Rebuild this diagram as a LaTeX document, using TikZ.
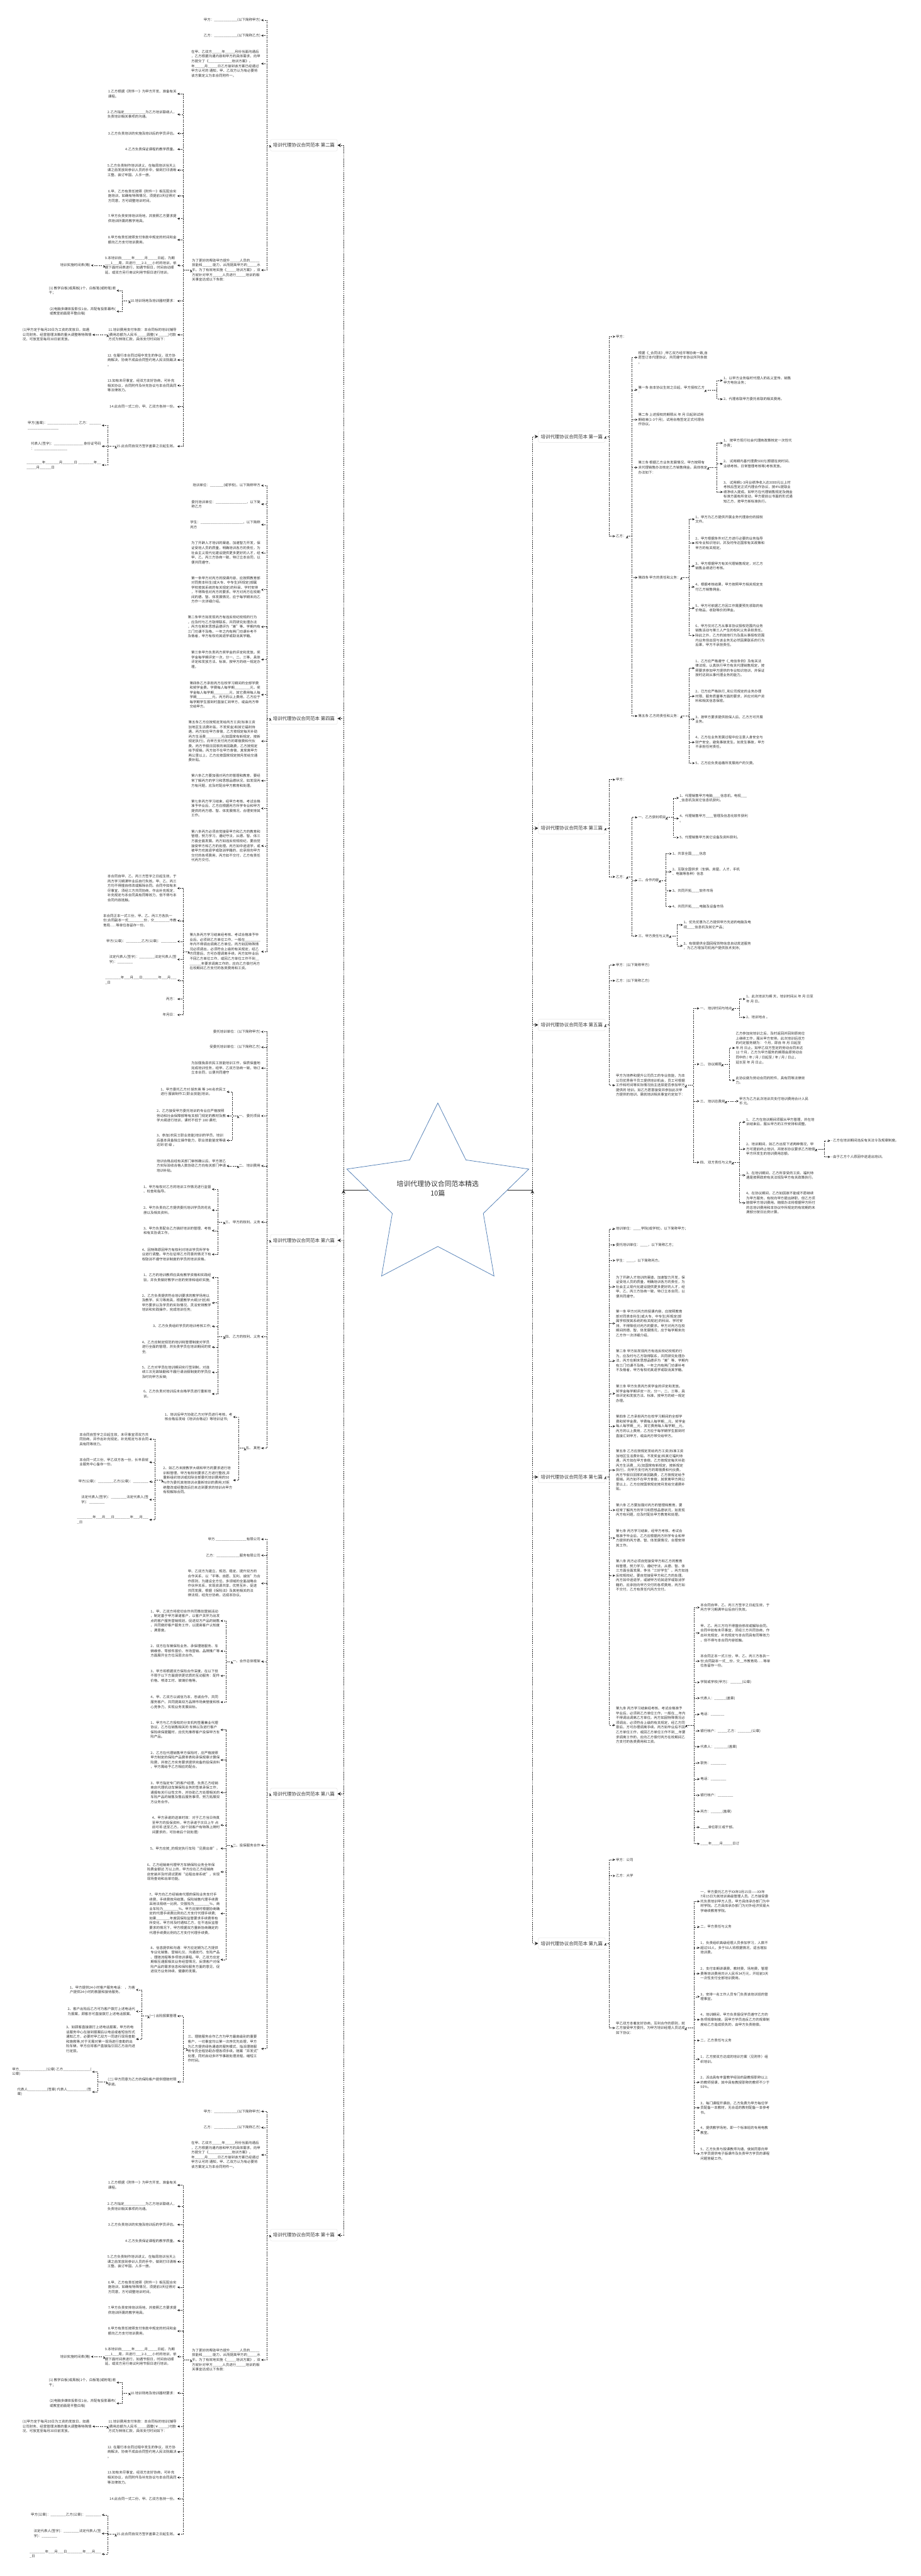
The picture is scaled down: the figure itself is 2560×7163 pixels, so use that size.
\documentclass[tikz,border=0pt]{standalone}
\usepackage{fontspec}
\setmainfont{Noto Sans CJK SC}
\usetikzlibrary{positioning,arrows.meta,calc,shapes.geometric}
\definecolor{mapink}{HTML}{333333}
\definecolor{mapline}{HTML}{262626}
\definecolor{starblue}{HTML}{4F7DB5}
\definecolor{topicedge}{HTML}{E2E2E2}

\begin{document}
\catcode`\_=12
\begin{tikzpicture}[x=1pt, y=-1pt,
  leaf/.style={font=\fontsize{9.6}{13.2}\selectfont, text=mapink, align=left, inner sep=2pt},
  rleaf/.style={leaf, anchor=west},
  lleaf/.style={leaf, anchor=east},
  topic/.style={draw=topicedge, fill=white, rounded corners=4pt, line width=0.8pt,
                font=\fontsize{13}{15}\selectfont, text=mapink, minimum height=32pt, inner xsep=7pt},
  rtopic/.style={topic, anchor=west},
  ltopic/.style={topic, anchor=east},
  link/.style={draw=mapline, line width=1.1pt, dash pattern=on 3.5pt off 2.5pt,
               -{Stealth[length=6.5pt, width=6.5pt, inset=2.2pt]}},
  trunk/.style={draw=mapline, line width=1.5pt, dash pattern=on 3pt off 2.5pt,
                -{Stealth[length=10pt, width=10pt, inset=3.5pt]}},
  rto/.style={to path={-| ($(\tikztotarget)+(-16,0)$) -- (\tikztotarget)}},
  lto/.style={to path={-| ($(\tikztotarget)+(16,0)$) -- (\tikztotarget)}},
  vto/.style={to path={|- (\tikztotarget)}},
  hubstar/.style={star, star points=5, star point ratio=2, minimum size=532pt, inner sep=0pt,
                  draw=starblue, fill=white, line width=1.3pt},
  hubtext/.style={font=\fontsize{19}{25}\selectfont, text=mapink, align=center},
]
\useasboundingbox (0,0) rectangle (2560,7163);
\fill[white] (0,0) rectangle (2560,7163);

% centre
\coordinate (lhub) at (955,3309);
\coordinate (rhub) at (1480,3309);
\draw[mapline, line width=1.2pt] (lhub) -- (rhub);
\node[hubstar] (hub) at (1217,3333) {};
\node[hubtext] (hubt) at (1217,3305) {培训代理协议合同范本精选\\10篇};

% topics
\node[rtopic] (t1) at (1496,1214) {培训代理协议合同范本 第一篇};
\node[rtopic] (t3) at (1496,2303) {培训代理协议合同范本 第三篇};
\node[rtopic] (t5) at (1496,2850) {培训代理协议合同范本 第五篇};
\node[rtopic] (t7) at (1496,4107) {培训代理协议合同范本 第七篇};
\node[rtopic] (t9) at (1496,5404) {培训代理协议合同范本 第九篇};
\node[ltopic] (t2) at (938,404) {培训代理协议合同范本 第二篇};
\node[ltopic] (t4) at (938,1998) {培训代理协议合同范本 第四篇};
\node[ltopic] (t6) at (938,3449) {培训代理协议合同范本 第六篇};
\node[ltopic] (t8) at (938,4988) {培训代理协议合同范本 第八篇};
\node[ltopic] (t10) at (938,6215) {培训代理协议合同范本 第十篇};
\draw[trunk] (rhub) edge[vto] (t1.west) edge[vto] (t3.west) edge[vto] (t5.west)
  edge[vto] (t7.west) edge[vto] (t9.west);
\draw[trunk] (lhub) edge[vto] (t2.east) edge[vto] (t4.east) edge[vto] (t6.east)
  edge[vto] (t8.east) edge[vto] (t10.east);

% ---- first
\node[rleaf] (t1a) at (1710,936) {甲方：};
\node[rleaf] (t1b) at (1710,1491) {乙方：};
\node[rleaf] (t1b1) at (1772,994) {根据《_合同法》,甲乙双方经平等协商一致,自\\愿签订本代理协议，共同遵守本协议所列条款\\。};
\node[rleaf] (t1b2) at (1772,1084) {第一条 自本协议生效之日起，甲方授权乙方\\：};
\node[rleaf] (t1b2a) at (2009,1058) {1、以甲方业务临时代理人的名义宣传、销售\\甲方电信业务；};
\node[rleaf] (t1b2b) at (2009,1110) {2、代理收取甲方委托收取的相关费用。};
\node[rleaf] (t1b3) at (1772,1167) {第二条 上述授权的期限从 年 月 日起到试用\\期结束(1-3个月)，试用合格签定正式代理合\\作协议。};
\node[rleaf] (t1b4) at (1772,1300) {第三条 根据乙方业务发展情况，甲方按照有\\关代理销售办法核定乙方销售佣金。具体核定\\办法如下：};
\node[rleaf] (t1b4a) at (2009,1232) {1、 按甲方现行社会代理商政策核定一次性代\\办费；};
\node[rleaf] (t1b4b) at (2009,1290) {2、 试用期内基代理费500元(根据在岗时间、\\业绩考核、日常管理考核等)考核发放。};
\node[rleaf] (t1b4c) at (2009,1368) {3、 试用期1-3月业绩净收入达3000元以上时\\考核后签定正式代理合作协议，按4\%提取业\\绩净收入提成。如甲方在代理销售规定及佣金\\标准方面有所变动，甲方提前以书面的形式通\\知乙方，按甲方新标准执行。};
\node[rleaf] (t1b5) at (1772,1606) {第四条 甲方的责任和义务：};
\node[rleaf] (t1b5a) at (1931,1444) {1、甲方为乙方提供开展业务代理身份的授权\\文件。};
\node[rleaf] (t1b5b) at (1931,1510) {2、甲方根据条件对乙方进行必要的业务指导\\和专业知识培训，并及时传达国家有关政策和\\甲方的有关规定。};
\node[rleaf] (t1b5c) at (1931,1574) {3、甲方根据甲方有关代理销售规定，对乙方\\销售业绩进行考核。};
\node[rleaf] (t1b5d) at (1931,1632) {4、根据考核结果，甲方按照甲方相关规定支\\付乙方销售佣金。};
\node[rleaf] (t1b5e) at (1931,1691) {5、甲方可依据乙方因工作需要预先领取的有\\价物品，收取等价的押金。};
\node[rleaf] (t1b5f) at (1931,1767) {6、甲方仅对乙方从事本协议授权范围内业务\\销售活动与第三人产生的权利义务承担责任。\\除此之外，乙方的其他行为及虽从事授权范围\\内业务但出现与该业务无必然因果联系的行为\\后果，甲方不承担责任。};
\node[rleaf] (t1b6) at (1772,1991) {第五条 乙方的责任和义务：};
\node[rleaf] (t1b6a) at (1931,1858) {1、乙方应严格遵守《_电信条例》及有关法\\律法规，认真执行甲方有关代理销售规定，按\\照要求参加甲方提供的专业知识培训，并保证\\按时达到从事代理业务的能力。};
\node[rleaf] (t1b6b) at (1931,1936) {2、已方应严格执行_和公司规定的业务办理\\时限、服务质量等方面的要求，并应对用户资\\料和相关信息保密。};
\node[rleaf] (t1b6c) at (1931,2000) {3、按甲方要求提供担保人后，乙方方可开展\\业务。};
\node[rleaf] (t1b6d) at (1931,2064) {4、乙方在业务发展过程中应注意人身安全与\\财产安全，避免事故发生。如发生事故，甲方\\不承担任何责任。};
\node[rleaf] (t1b6e) at (1931,2122) {5、乙方应负责追缴所发展用户的欠费。};
\draw[link] (t1.east) edge[rto] (t1a.west) edge[rto] (t1b.west);
\draw[link] (t1b.east) edge[rto] (t1b1.west) edge[rto] (t1b2.west) edge[rto] (t1b3.west)
  edge[rto] (t1b4.west) edge[rto] (t1b5.west) edge[rto] (t1b6.west);
\draw[link] (t1b2.east) edge[rto] (t1b2a.west) edge[rto] (t1b2b.west);
\draw[link] (t1b4.east) edge[rto] (t1b4a.west) edge[rto] (t1b4b.west) edge[rto] (t1b4c.west);
\draw[link] (t1b5.east) edge[rto] (t1b5a.west) edge[rto] (t1b5b.west) edge[rto] (t1b5c.west)
  edge[rto] (t1b5d.west) edge[rto] (t1b5e.west) edge[rto] (t1b5f.west);
\draw[link] (t1b6.east) edge[rto] (t1b6a.west) edge[rto] (t1b6b.west) edge[rto] (t1b6c.west)
  edge[rto] (t1b6d.west) edge[rto] (t1b6e.west);

% ---- third
\node[rleaf] (t3a) at (1710,2168) {甲方：};
\node[rleaf] (t3b) at (1710,2438) {乙方：};
\node[rleaf] (t3b1) at (1772,2273) {一、乙方获利项目};
\node[rleaf] (t3b1a) at (1887,2219) {1、代理销售甲方电脑____信息机，电视___\\_信息机及其它信息机获利。};
\node[rleaf] (t3b1b) at (1887,2276) {4、代理销售甲方____管理及信息化软件获利\\。};
\node[rleaf] (t3b1c) at (1887,2329) {5、代理销售甲方其它设备及资料获利。};
\node[rleaf] (t3b2) at (1772,2448) {二、合作内容};
\node[rleaf] (t3b2a) at (1867,2374) {1、共享全国____信息};
\node[rleaf] (t3b2b) at (1867,2424) {2、互联全国供求（车辆、房屋、人才、手机\\、电脑等各种）信息};
\node[rleaf] (t3b2c) at (1867,2477) {3、共同开拓____软件市场};
\node[rleaf] (t3b2d) at (1867,2521) {4、共同开拓____电脑及设备市场};
\node[rleaf] (t3b3) at (1772,2602) {三、甲方责任与义务};
\node[rleaf] (t3b3a) at (1898,2572) {1、优先优惠为乙方提供甲方先进的电脑及电\\视____信息机及其它产品；};
\node[rleaf] (t3b3b) at (1898,2630) {2、有偿提供全国回程货物信息自动发送服务\\，为乙方增加司机用户提供技术支持；};
\draw[link] (t3.east) edge[rto] (t3a.west) edge[rto] (t3b.west);
\draw[link] (t3b.east) edge[rto] (t3b1.west) edge[rto] (t3b2.west) edge[rto] (t3b3.west);
\draw[link] (t3b1.east) edge[rto] (t3b1a.west) edge[rto] (t3b1b.west) edge[rto] (t3b1c.west);
\draw[link] (t3b2.east) edge[rto] (t3b2a.west) edge[rto] (t3b2b.west) edge[rto] (t3b2c.west)
  edge[rto] (t3b2d.west);
\draw[link] (t3b3.east) edge[rto] (t3b3a.west) edge[rto] (t3b3b.west);

% ---- fifth
\node[rleaf] (t5a) at (1710,2683) {甲方：(以下简称甲方)};
\node[rleaf] (t5b) at (1710,2727) {乙方：(以下简称乙方)};
\node[rleaf] (t5c) at (1710,3018) {甲方为培养和提升公司员工的专业技能，为本\\公司优秀骨干员工提供培训机会，员工可根据\\工作和时间等实际情况自主选择是否参加甲方\\提供的 培训。如乙方愿意接受并参加此次甲\\方提供的培训，需就培训相关事宜约定如下：};
\node[rleaf] (t5c1) at (1944,2804) {一、 培训时间与地点};
\node[rleaf] (t5c1a) at (2072,2778) {1、此次培训为期 天，培训时间从 年 月 日至\\ 年 月 日。};
\node[rleaf] (t5c1b) at (2072,2829) {2、培训地点 。};
\node[rleaf] (t5c2) at (1944,2959) {二、 协议期限};
\node[rleaf] (t5c2a) at (2043,2914) {乙方参加完培训之后，及时返回并回到原岗位\\上继续工作，服从甲方安排。此次培训后双方\\的约定服务期为： 个月，即自 年 月 日起至\\年 月 日止。如甲乙双方签定的劳动合同未达\\12 个月，乙方为甲方服务的期限由原劳动合\\同中的 / 年 / 月 / 日起至 / 年 / 月 / 日止，\\延长至 年 月 日止。};
\node[rleaf] (t5c2b) at (2043,3004) {此协议做为劳动合同的附件，具有同等法律效\\力。};
\node[rleaf] (t5c3) at (1944,3062) {三、 培训总费用};
\node[rleaf] (t5c3a) at (2053,3062) {甲方为乙方此次培训共支付培训费用合计人民\\币 元。};
\node[rleaf] (t5c4) at (1944,3232) {四、 双方责任与义务};
\node[rleaf] (t5c4a) at (2072,3120) {1、 乙方在培训期间须服从甲方管理，并在培\\训结束后，服从甲方的工作安排和调整。};
\node[rleaf] (t5c4b) at (2072,3195) {2、培训期间，如乙方出现下述两种情况，甲\\方可提前终止培训，并按本协议要求乙方赔偿\\甲方所发生的培训费用总额。};
\node[rleaf] (t5c4b1) at (2308,3172) {- 乙方在培训期间违反有关法令及规章制度。};
\node[rleaf] (t5c4b2) at (2308,3217) {- 由于乙方个人原因中途退出培训。};
\node[rleaf] (t5c4c) at (2072,3268) {3、在培训期间，乙方所享受的工资、福利待\\遇是按照政府有关法规及甲方有关政策执行。};
\node[rleaf] (t5c4d) at (2072,3345) {4、在协议期间，乙方如因故不能或不愿继续\\为甲方服务，有权向甲方提出辞职，但乙方须\\赔偿甲方培训费用。赔偿办法将根据甲方所付\\的总培训费用和本协议中所规定的有效期的未\\满部分按日比例计算。};
\draw[link] (t5.east) edge[rto] (t5a.west) edge[rto] (t5b.west) edge[rto] (t5c.west);
\draw[link] (t5c.east) edge[rto] (t5c1.west) edge[rto] (t5c2.west) edge[rto] (t5c3.west)
  edge[rto] (t5c4.west);
\draw[link] (t5c1.east) edge[rto] (t5c1a.west) edge[rto] (t5c1b.west);
\draw[link] (t5c2.east) edge[rto] (t5c2a.west) edge[rto] (t5c2b.west);
\draw[link] (t5c3.east) edge[rto] (t5c3a.west);
\draw[link] (t5c4.east) edge[rto] (t5c4a.west) edge[rto] (t5c4b.west) edge[rto] (t5c4c.west)
  edge[rto] (t5c4d.west);
\draw[link] (t5c4b.east) edge[rto] (t5c4b1.west) edge[rto] (t5c4b2.west);

% ---- seventh
\node[rleaf] (t7a) at (1710,3417) {培训单位：____学院(或学校)，以下简称甲方；};
\node[rleaf] (t7b) at (1710,3462) {委托培训单位：____，以下简称乙方；};
\node[rleaf] (t7c) at (1710,3505) {学生：____，以下简称丙方。};
\node[rleaf] (t7d) at (1710,3578) {为了开辟人才培训的渠道，加速智力开发，保\\证受培人员的质量，明确培训各方的责任，为\\社会主义现代化建设提供更多更好的人才，经\\甲、乙、丙三方协商一致，特订立本合同，以\\便共同遵守。};
\node[rleaf] (t7e) at (1710,3680) {第一条 甲方对丙方的授课内容，应按照教育\\部对同类本科生(或大专、中专生)所规定(部\\属学校按其系统的有关规定)的科目、学时安\\排，不得降低对丙方的要求。甲方对丙方在校\\期间的德、智、体发展情况，应于每学期末向\\乙方作一次详细介绍。};
\node[rleaf] (t7f) at (1710,3784) {第二条 甲方如发现丙方有违反校纪校规的行\\为，应及时与乙方取得联系，共同研究处理办\\法，丙方在期末思想品德评为“差”等、学期内\\有三门功课不及格，一年之内有两门功课补考\\不及格者，甲方有权劝其退学或取消其学籍。};
\node[rleaf] (t7g) at (1710,3875) {第三条 甲方负责丙方奖学金的评定和发放。\\奖学金每学期评定一次，分一、二、三等，具\\体评定和发放方法、标准，按甲方的统一规定\\办理。};
\node[rleaf] (t7h) at (1710,3966) {第四条 乙方承担丙方在校学习期间的全部学\\费和奖学金费。学费每人每学期__元，奖学金\\每人每学期__元，其它费用每人每学期__元。\\丙方的以上费用，乙方应于每学期学生报到时\\直接汇到甲方，或由丙方带交给甲方。};
\node[rleaf] (t7i) at (1710,4088) {第五条 乙方应按规定发给丙方工资(标准工资\\加地区生活费补贴，不发奖金)和其它福利待\\遇，丙方如在甲方食宿，乙方按规定每天补助\\丙方生活费__元(如国家有新规定，按新规定\\执行)，向甲方支付丙方的寄宿费和代伙费。\\丙方节假日回家的来回路费，乙方按规定给予\\报销。丙方如不在甲方食宿，其家离甲方两公\\里以上，乙方应按国家规定按月发给交通费补\\贴。};
\node[rleaf] (t7j) at (1710,4199) {第六条 乙方要加强对丙方的管理和教育，要\\经常了解丙方的学习和思想品德状况，如发现\\丙方有问题，应及时配合甲方教育和处理。};
\node[rleaf] (t7k) at (1710,4277) {第七条 丙方学习结束，经甲方考核、考试合\\格准予毕业后，乙方应根据丙方所学专业和甲\\方提供的丙方德、智、体发展情况，合理安排\\其工作。};
\node[rleaf] (t7l) at (1710,4381) {第八条 丙方必须自觉接受甲方和乙方的教育\\和管理，努力学习，遵纪守法，从德、智、体\\三方面全面发展，争当“三好学生”。丙方如违\\反校规校纪，要自觉接受甲方和乙方的处理。\\丙方如中途退学，或被甲方劝其退学或取消学\\籍的，应承担向甲方交付的各项费用，丙方如\\不交付，乙方有责任代丙方交付。};
\node[rleaf] (t7m) at (1710,4797) {第九条 丙方学习结束经考核、考试合格准予\\毕业后，必须到乙方单位工作，一般在__年内\\不得调出调离乙方单位。丙方如因特殊情况必\\须调出，必须符合上级的有关规定，经乙方同\\意后，方可办理调离手续。丙方如毕业后不回\\乙方单位工作，或回乙方单位工作不到__年要\\求调离工作的，应向乙方偿付丙方在校期间乙\\方支付的各类费用和工资。};
\node[rleaf] (t7m1) at (1945,4470) {本合同自甲、乙、丙三方签字之日起生效，于\\丙方学习期满毕业后自行失效。};
\node[rleaf] (t7m2) at (1945,4541) {甲、乙、丙三方均不得擅自修改或解除合同。\\合同中如有未尽事宜，须经三方共同协商，作\\出补充规定，补充规定与本合同具有同等效力\\，但不得与本合同内容抵触。};
\node[rleaf] (t7m3) at (1945,4619) {本合同正本一式三份，甲、乙、丙三方各执一\\份;合同副本一式__份，交__市教育局......等单\\位各留存一份。};
\node[rleaf] (t7m4) at (1945,4678) {学院或学校(甲方)：______(公章)};
\node[rleaf] (t7m5) at (1945,4722) {代表人：______(盖章)};
\node[rleaf] (t7m6) at (1945,4767) {电话：_______};
\node[rleaf] (t7m7) at (1945,4813) {银行帐户：_____乙方：_______(公章)};
\node[rleaf] (t7m8) at (1945,4857) {代表人：_______(盖章)};
\node[rleaf] (t7m9) at (1945,4902) {职务：________};
\node[rleaf] (t7m10) at (1945,4947) {电话：________};
\node[rleaf] (t7m11) at (1945,4992) {银行帐户：________};
\node[rleaf] (t7m12) at (1945,5037) {丙方：______(盖章)};
\node[rleaf] (t7m13) at (1945,5081) {____单位职工或干部。};
\node[rleaf] (t7m14) at (1945,5127) {____年____月_____日订};
\draw[link] (t7.east) edge[rto] (t7a.west) edge[rto] (t7b.west) edge[rto] (t7c.west)
  edge[rto] (t7d.west) edge[rto] (t7e.west) edge[rto] (t7f.west) edge[rto] (t7g.west)
  edge[rto] (t7h.west) edge[rto] (t7i.west) edge[rto] (t7j.west) edge[rto] (t7k.west)
  edge[rto] (t7l.west) edge[rto] (t7m.west);
\draw[link] (t7m.east) edge[rto] (t7m1.west) edge[rto] (t7m2.west) edge[rto] (t7m3.west)
  edge[rto] (t7m4.west) edge[rto] (t7m5.west) edge[rto] (t7m6.west) edge[rto] (t7m7.west)
  edge[rto] (t7m8.west) edge[rto] (t7m9.west) edge[rto] (t7m10.west) edge[rto] (t7m11.west)
  edge[rto] (t7m12.west) edge[rto] (t7m13.west) edge[rto] (t7m14.west);

% ---- ninth
\node[rleaf] (t9a) at (1710,5171) {甲方：公司};
\node[rleaf] (t9b) at (1710,5216) {乙方：大学};
\node[rleaf] (t9c) at (1710,5639) {甲乙双方本着友好协商，互利合作的原则，就\\乙方接受甲方委托，为甲方培训经理人员达成\\如下协议：};
\node[rleaf] (t9c1) at (1945,5287) {一，甲方委托乙方于XX年3月15日——XX年\\7月15日为其培训高级管理人员。乙方接受委\\托负责培训甲方人员。甲方具体承办部门为中\\材学院。乙方具体承办部门为对外经济贸易大\\学继续教育学院。};
\node[rleaf] (t9c2) at (1945,5358) {二，甲方责任与义务};
\node[rleaf] (t9c3) at (1945,5416) {1，负责组织高级经理人员参加学习，人数不\\超过50人，多于50人将根据情况，适当增加\\培训费。};
\node[rleaf] (t9c4) at (1945,5488) {2，支付本期讲课费，教材费，场地费，管理\\费等培训费用共计人民币34万元，开班前3天\\一次性支付全部培训费用。};
\node[rleaf] (t9c5) at (1945,5552) {3，安排一名工作人员专门负责该培训班的管\\理事宜。};
\node[rleaf] (t9c6) at (1945,5616) {4，培训期间，甲方负责督促学员遵守乙方的\\各项规章制度。因甲方学员违反乙方的规章制\\度给乙方造成损失的，由甲方负责赔偿。};
\node[rleaf] (t9c7) at (1945,5674) {二，乙方责任与义务};
\node[rleaf] (t9c8) at (1945,5726) {1，乙方按双方达成的培训方案（见附件）组\\织培训。};
\node[rleaf] (t9c9) at (1945,5790) {2，派出具有丰富教学经验的副教授职称以上\\的教师授课，其中具有教授职称的教师不少于\\50\%。};
\node[rleaf] (t9c10) at (1945,5861) {3，每门课程开课前，乙方免费为甲方每位学\\员配备一本教材，无合适的教材配备一本参考\\书。};
\node[rleaf] (t9c11) at (1945,5924) {4，提供教学场地，即一个标准班的专用电教\\教室。};
\node[rleaf] (t9c12) at (1945,5989) {5，乙方负责与授课教师沟通，使其同意向甲\\方学员提供电子版课件及负责甲方学员的课程\\问题答疑工作。};
\draw[link] (t9.east) edge[rto] (t9a.west) edge[rto] (t9b.west) edge[rto] (t9c.west);
\draw[link] (t9c.east) edge[rto] (t9c1.west) edge[rto] (t9c2.west) edge[rto] (t9c3.west)
  edge[rto] (t9c4.west) edge[rto] (t9c5.west) edge[rto] (t9c6.west) edge[rto] (t9c7.west)
  edge[rto] (t9c8.west) edge[rto] (t9c9.west) edge[rto] (t9c10.west) edge[rto] (t9c11.west)
  edge[rto] (t9c12.west);

% ---- second
\node[lleaf] (t2a) at (726,56) {甲方：____________(以下简称甲方)};
\node[lleaf] (t2b) at (726,99) {乙方：____________(以下简称乙方)};
\node[lleaf] (t2c) at (726,177) {在甲、乙双方_____年_____月份当面沟通后\\，乙方根据沟通内容和甲方的具体需求，向甲\\方提交了《____________培训方案》。\\年_____月_____日乙方接到该方案已经通过\\甲方认可的 通知，甲、乙双方认为有必要将\\该方案定义为本合同附件一。};
\node[lleaf] (t2d) at (726,751) {为了更好的帮助甲方提升_____人员的_____\\技能和_____ 能力，从而提高甲方的_____水\\平。为了有效地实施《_____培训方案》，双\\方就针对甲方_____人员进行_____培训的相\\关事宜达成以下条款：};
\node[lleaf] (t2d1) at (493,261) {1.乙方根据《附件一》为甲方开发、准备有关\\课程。};
\node[lleaf] (t2d2) at (493,318) {2.乙方指定___________为乙方培训联络人，\\负责培训相关事项的沟通。};
\node[lleaf] (t2d3) at (493,371) {3.乙方负责培训的实施及培训后的学员评估。};
\node[lleaf] (t2d4) at (493,415) {4.乙方负责保证课程的教学质量。};
\node[lleaf] (t2d5) at (493,473) {5.乙方负责制作培训讲义，在每周培训当天上\\课之前发放到参训人员的手中，做到打印清晰\\工整、装订牢固、人手一册。};
\node[lleaf] (t2d6) at (493,545) {6.甲、乙方有责任按照《附件一》相互配合实\\施培训，如确有特殊情况，须提前3天征得对\\方同意，方可调整培训时间。};
\node[lleaf] (t2d7) at (493,608) {7.甲方负责安排培训场地，并按照乙方要求提\\供培训所需的教学用具。};
\node[lleaf] (t2d8) at (493,667) {8.甲方有责任按照支付条款中规定的时间和金\\额向乙方支付培训费用。};
\node[lleaf] (t2d9) at (493,738) {9.本培训自_____年_____月_____日起，为期\\___1___周，共进行___2-3___小时的培训，依\\据下面时间表进行，如遇节假日，时间自动顺\\延，或双方另行商议利用节假日进行培训。};
\node[lleaf] (t2d9a) at (253,738) {培训实施时间表(略)};
\node[lleaf] (t2d10) at (493,837) {10.培训场地及培训器材要求：};
\node[lleaf] (t2d10a) at (324,808) {(1) 教学白板(或黑板)1个，白板笔(或粉笔)若\\干；};
\node[lleaf] (t2d10b) at (324,866) {(2)电脑多媒体投影仪1台，并配有投影幕布(\\或教室前面是平整白墙)};
\node[lleaf] (t2d11) at (493,931) {11.培训费用支付条款：本合同标的培训(辅导\\)费用总额为人民币_____圆整(￥_____)付款\\方式为转账汇款，具体支付时间如下：};
\node[lleaf] (t2d11a) at (257,931) {(1)甲方定于每月20日为工资的发放日，如遇\\公司财务、经营管理决策的重大调整等特殊情\\况，可放宽至每月30日前发放。};
\node[lleaf] (t2d12) at (493,1001) {12. 在履行本合同过程中发生的争议，双方协\\商解决，协商不成由合同签约地人民法院裁决\\。};
\node[lleaf] (t2d13) at (493,1072) {13.如有未尽事宜，经双方友好协商，可补充\\相关协议，合同附件及补充协议与本合同具同\\等法律效力。};
\node[lleaf] (t2d14) at (493,1131) {14.此合同一式二份，甲、乙双方各持一份。};
\node[lleaf] (t2d15) at (493,1241) {15.此合同自双方签字盖章之日起生效。};
\node[lleaf] (t2d15a) at (283,1183) {甲方(盖章)：________________ 乙方：______\\________________};
\node[lleaf] (t2d15b) at (283,1241) {代表人(签字)：_______________ 身份证号码\\：_________________};
\node[lleaf] (t2d15c) at (283,1293) {________年_______月______日 ________年__\\_____月______日};
\draw[link] (t2.west) edge[lto] (t2a.east) edge[lto] (t2b.east) edge[lto] (t2c.east)
  edge[lto] (t2d.east);
\draw[link] (t2d.west) edge[lto] (t2d1.east) edge[lto] (t2d2.east) edge[lto] (t2d3.east)
  edge[lto] (t2d4.east) edge[lto] (t2d5.east) edge[lto] (t2d6.east) edge[lto] (t2d7.east)
  edge[lto] (t2d8.east) edge[lto] (t2d9.east) edge[lto] (t2d10.east) edge[lto] (t2d11.east)
  edge[lto] (t2d12.east) edge[lto] (t2d13.east) edge[lto] (t2d14.east) edge[lto] (t2d15.east);
\draw[link] (t2d9.west) edge[lto] (t2d9a.east);
\draw[link] (t2d10.west) edge[lto] (t2d10a.east) edge[lto] (t2d10b.east);
\draw[link] (t2d11.west) edge[lto] (t2d11a.east);
\draw[link] (t2d15.west) edge[lto] (t2d15a.east) edge[lto] (t2d15b.east) edge[lto] (t2d15c.east);

% ---- fourth
\node[lleaf] (t4a) at (726,1350) {培训单位：_______(或学校)，以下简称甲方};
\node[lleaf] (t4b) at (726,1402) {委托培训单位：________________，以下简\\称乙方};
\node[lleaf] (t4c) at (726,1459) {学生：______________________，以下简称\\丙方};
\node[lleaf] (t4d) at (726,1537) {为了开辟人才培训的渠道，加速智力开发，保\\证受培人员的质量，明确培训各方的责任，为\\社会主义现代化建设提供更多更好的人才，经\\甲、乙、丙三方协商一致，特订立本合同，以\\便共同遵守。};
\node[lleaf] (t4e) at (726,1640) {第一条甲方对丙方的授课内容，应按照教育部\\对同类本科生(或大专、中专生)所规定(部属\\学校按其系统的有关规定)的科目、学时安排\\，不得降低对丙方的要求。甲方对丙方在校期\\间的德、智、体发展情况，应于每学期末向乙\\方作一次详细介绍。};
\node[lleaf] (t4f) at (726,1743) {第二条甲方如发现丙方有违反校纪校规的行为\\，应及时与乙方取得联系，共同研究处理办法\\，丙方在期末思想品德评为“差”等、学期内有\\三门功课不及格，一年之内有两门功课补考不\\及格者，甲方有权劝其退学或取消其学籍。};
\node[lleaf] (t4g) at (726,1834) {第三条甲方负责丙方奖学金的评定和发放。奖\\学金每学期评定一次，分一、二、三等，具体\\评定和发放方法、标准，按甲方的统一规定办\\理。};
\node[lleaf] (t4h) at (726,1932) {第四条乙方承担丙方在校学习期间的全部学费\\和奖学金费。学费每人每学期________元，奖\\学金每人每学期________元，其它费用每人每\\学期________元。丙方的以上费用，乙方应于\\每学期学生报到时直接汇到甲方，或由丙方带\\交给甲方。};
\node[lleaf] (t4i) at (726,2061) {第五条乙方应按规定发给丙方工资(标准工资\\加地区生活费补贴，不发奖金)和其它福利待\\遇，丙方如在甲方食宿，乙方按规定每天补助\\丙方生活费________元(如国家有新规定，按新\\规定执行)，向甲方支付丙方的寄宿费和代伙\\费。丙方节假日回家的来回路费，乙方按规定\\给予报销。丙方如不在甲方食宿，其家离甲方\\两公里以上，乙方应按国家规定按月发给交通\\费补贴。};
\node[lleaf] (t4j) at (726,2171) {第六条乙方要加强对丙方的管理和教育，要经\\常了解丙方的学习和思想品德状况，如发现丙\\方有问题，应及时配合甲方教育和处理。};
\node[lleaf] (t4k) at (726,2248) {第七条丙方学习结束，经甲方考核、考试合格\\准予毕业后，乙方应根据丙方所学专业和甲方\\提供的丙方德、智、体发展情况，合理安排其\\工作。};
\node[lleaf] (t4l) at (726,2352) {第八条丙方必须自觉接受甲方和乙方的教育和\\管理，努力学习，遵纪守法，从德、智、体三\\方面全面发展。丙方如违反校规校纪，要自觉\\接受甲方和乙方的处理。丙方如中途退学，或\\被甲方劝其退学或取消学籍的，应承担向甲方\\交付的各项费用，丙方如不交付，乙方有责任\\代丙方交付。};
\node[lleaf] (t4m) at (726,2646) {第九条丙方学习结束经考核、考试合格准予毕\\业后，必须到乙方单位工作，一般在________\\年内不得调出调离乙方单位。丙方如因特殊情\\况必须调出，必须符合上级的有关规定，经乙\\方同意后，方可办理调离手续。丙方如毕业后\\不回乙方单位工作，或回乙方单位工作不到__\\______年要求调离工作的，应向乙方偿付丙方\\在校期间乙方支付的各类费用和工资。};
\node[lleaf] (t4m1) at (493,2470) {本合同自甲、乙、丙三方签字之日起生效，于\\丙方学习期满毕业后自行失效。甲、乙、丙三\\方均不得擅自修改或解除合同。合同中如有未\\尽事宜，须经三方共同协商，作出补充规定，\\补充规定与本合同具有同等效力，但不得与本\\合同内容抵触。};
\node[lleaf] (t4m2) at (493,2560) {本合同正本一式三份，甲、乙、丙三方各执一\\份;合同副本一式________份，交________市教\\育局......等单位各留存一份。};
\node[lleaf] (t4m3) at (493,2618) {甲方(公章)：________乙方(公章)：________};
\node[lleaf] (t4m4) at (493,2668) {法定代表人(签字)：________法定代表人(签\\字)：________};
\node[lleaf] (t4m5) at (493,2726) {________年___月___日________年___月___\\_日};
\node[lleaf] (t4m6) at (493,2778) {丙方：};
\node[lleaf] (t4m7) at (493,2822) {年月日：};
\draw[link] (t4.west) edge[lto] (t4a.east) edge[lto] (t4b.east) edge[lto] (t4c.east)
  edge[lto] (t4d.east) edge[lto] (t4e.east) edge[lto] (t4f.east) edge[lto] (t4g.east)
  edge[lto] (t4h.east) edge[lto] (t4i.east) edge[lto] (t4j.east) edge[lto] (t4k.east)
  edge[lto] (t4l.east) edge[lto] (t4m.east);
\draw[link] (t4m.west) edge[lto] (t4m1.east) edge[lto] (t4m2.east) edge[lto] (t4m3.east)
  edge[lto] (t4m4.east) edge[lto] (t4m5.east) edge[lto] (t4m6.east) edge[lto] (t4m7.east);

% ---- sixth
\node[lleaf] (t6a) at (726,2869) {委托培训单位：(以下简称甲方)};
\node[lleaf] (t6b) at (726,2912) {受委托培训单位：(以下简称乙方)};
\node[lleaf] (t6c) at (726,2970) {为加强我县农民工技能培训工作，保质保量地\\完成培训任务，经甲、乙双方协商一致，特订\\立本合同，以便共同遵守};
\node[lleaf] (t6d) at (726,3103) {一、 委托项目};
\node[lleaf] (t6d1) at (630,3036) {1、甲方委托乙方对 胡东英 等 146名农民工\\进行 服装制作工(职业技能)培训。};
\node[lleaf] (t6d2) at (630,3103) {2、乙方接受甲方委托培训的专业应严格按照\\劳动和社会保障部等有关部门规定的教材及教\\学大纲进行培训，课时不低于 180 课时;};
\node[lleaf] (t6d3) at (630,3171) {3、参加(农民工职业技能)培训的学员，培训\\后基本具备独立操作能力，职业技能鉴定等级\\达到 初 级 。};
\node[lleaf] (t6e) at (726,3242) {二、 培训费用};
\node[lleaf] (t6e1) at (630,3242) {培训合格且经有关部门审核确认后，甲方按乙\\方实际验收合格人数协助乙方向有关部门申请\\培训补贴。};
\node[lleaf] (t6f) at (726,3398) {三、 甲方的权利、义务};
\node[lleaf] (t6f1) at (589,3307) {1、甲方有权对乙方的培训工作情况进行监督\\、检查和指导。};
\node[lleaf] (t6f2) at (589,3365) {2、甲方负责向乙方提供委托培训学员的花名\\册以及相关资料。};
\node[lleaf] (t6f3) at (589,3422) {3、甲方负责配合乙方搞好培训的管理、考核\\和有关协调工作。};
\node[lleaf] (t6f4) at (589,3488) {4、因特殊原因甲方有权利对培训学员所学专\\业进行调整。甲方在征得乙方同意的情况下有\\权取消不遵守培训制度的学员的培训资格。};
\node[lleaf] (t6g) at (726,3717) {四、 乙方的权利、义务};
\node[lleaf] (t6g1) at (589,3553) {1、乙方的培训教师应具有教学资格和实践经\\验，并负责做好教学计划的安排和组织实施;};
\node[lleaf] (t6g2) at (589,3623) {2、乙方负责提供符合培训要求的教学场地以\\及教学、实习等用具，根据教学大纲(计划)和\\甲方要求以及学员的实际情况，灵活安排教学\\培训和实践操作，完成培训任务;};
\node[lleaf] (t6g3) at (589,3688) {3、乙方负责组织学员的培训考核工作;};
\node[lleaf] (t6g4) at (589,3746) {4、乙方应制定规范的培训和管理制度对学员\\进行全面的管理，并负责学员在培训期间的安\\全;};
\node[lleaf] (t6g5) at (589,3816) {5、乙方对学员在培训期间实行签到制，对连\\续三次无故缺勤和不履行请消假制度的学员应\\及时向甲方反映;};
\node[lleaf] (t6g6) at (589,3876) {6、乙方负责对培训后未合格学员进行重新培\\训。};
\node[lleaf] (t6h) at (726,4027) {五、 其他};
\node[lleaf] (t6h1) at (648,3940) {1、培训后甲方协助乙方对学员进行考核，考\\核合格后发给《培训合格证》等培训证书;};
\node[lleaf] (t6h2) at (648,4116) {2、如乙方未按教学大纲和甲方的要求进行培\\训和管理，甲方有权利要求乙方进行整改,并\\重新组织培训或扣除全部委托培训费用的50\\\%作为委托其他培训点重新培训的费用;对拒\\绝整改或经整改后仍未达到要求的培训点甲方\\有权解除合同。};
\node[lleaf] (t6h2a) at (415,4002) {本合同自签字之日起生效，未尽事宜须双方共\\同协商，并作出补充规定。补充规定与本合同\\具有同等效力。};
\node[lleaf] (t6h2b) at (415,4066) {本合同一式三份，甲乙双方各一份，长丰县就\\业服务中心备存一份。};
\node[lleaf] (t6h2c) at (415,4120) {甲方(公章)：________乙方(公章)：________};
\node[lleaf] (t6h2d) at (415,4170) {法定代表人(签字)：________法定代表人(签\\字)：________};
\node[lleaf] (t6h2e) at (415,4226) {________年___月___日________年___月___\\_日};
\draw[link] (t6.west) edge[lto] (t6a.east) edge[lto] (t6b.east) edge[lto] (t6c.east)
  edge[lto] (t6d.east) edge[lto] (t6e.east) edge[lto] (t6f.east) edge[lto] (t6g.east)
  edge[lto] (t6h.east);
\draw[link] (t6d.west) edge[lto] (t6d1.east) edge[lto] (t6d2.east) edge[lto] (t6d3.east);
\draw[link] (t6e.west) edge[lto] (t6e1.east);
\draw[link] (t6f.west) edge[lto] (t6f1.east) edge[lto] (t6f2.east) edge[lto] (t6f3.east)
  edge[lto] (t6f4.east);
\draw[link] (t6g.west) edge[lto] (t6g1.east) edge[lto] (t6g2.east) edge[lto] (t6g3.east)
  edge[lto] (t6g4.east) edge[lto] (t6g5.east) edge[lto] (t6g6.east);
\draw[link] (t6h.west) edge[lto] (t6h1.east) edge[lto] (t6h2.east);
\draw[link] (t6h2.west) edge[lto] (t6h2a.east) edge[lto] (t6h2b.east) edge[lto] (t6h2c.east)
  edge[lto] (t6h2d.east) edge[lto] (t6h2e.east);

% ---- eighth
\node[lleaf] (t8a) at (726,4280) {甲方 ________________有限公司};
\node[lleaf] (t8b) at (726,4325) {乙方：____________服务有限公司};
\node[lleaf] (t8c) at (726,4403) {甲、乙双方为建立、规范、稳定、提升双方的\\合作关系，以“平等、自愿、互利、诚信”为合\\作原则，为建设全方位、多领域的全面战略合\\作伙伴关系，实现资源共享，优势互补，促进\\共同发展，根据《保险法》及其他相关的法\\律法规，经充分协商，达成本协议。};
\node[lleaf] (t8d) at (726,4620) {一、合作总体框架};
\node[lleaf] (t8d1) at (613,4507) {1、甲、乙双方将密切合作共同策划营销活动\\，制定基于甲方渠道客户，以客户关怀为出发\\点的客户服务营销规划，促进双方产品的销售\\，共同做好客户服务工作，以提高客户认知度\\、满意度。};
\node[lleaf] (t8d2) at (613,4591) {2、双方在车辆保险业务、承保理赔服务、车\\辆维修、零部件报价、市场营销、品牌推广等\\方面展开全方位深层次合作。};
\node[lleaf] (t8d3) at (613,4660) {3、甲方将根据双方保险合作深度，在以下但\\不限于以下方面提供更优质的互动服务：配件\\价格、喷漆工时、玻璃价格等。};
\node[lleaf] (t8d4) at (613,4733) {4、甲、乙双方以诚信为本，忠诚合作，共同\\服务客户。共同提高双方品牌市场美誉度和核\\心竞争力，实现业务发展目标。};
\node[lleaf] (t8e) at (726,5131) {二、投保服务合作};
\node[lleaf] (t8e1) at (613,4810) {1、甲方与乙方授权的分支机构签署兼业代理\\协议，乙方在销售相关的 车辆以及进行客户\\保险续保提醒时，应优先推荐客户投保甲方车\\险产品。};
\node[lleaf] (t8e2) at (613,4894) {2、乙方在代理销售甲方保险时，应严格按照\\甲方制定的保险产品费率表和承保规章计算保\\险费，并按乙方实务要求提供完备的投保资料\\，甲方需给予乙方相应的配合。};
\node[lleaf] (t8e3) at (613,4984) {3、甲方指定专门的客户经理，负责乙方经销\\商店代理机动车辆保险业务的签单承保工作，\\通报有关行业性文件、并协助乙方处理相关的\\车险产品的销售及售后服务事项，努力拓展双\\方业务合作。};
\node[lleaf] (t8e4) at (613,5075) {4、甲方承诺的送单时效：对于乙方当日传真\\至甲方的投保资料，甲方承诺于次日上午 点\\前可将 送至乙方。(如个别客户有特殊上牌时\\间要求的，可协商后个别处理)};
\node[lleaf] (t8e5) at (613,5140) {5、甲方应按_的规定执行车险“见费出单”。};
\node[lleaf] (t8e6) at (613,5205) {6、乙方经销商代理甲方车辆保险业务全年保\\险费金额达 万以上的，甲方应在乙方经销商\\店安装并及时调试更新“远程出单系统”，实现\\现场查询和出单功能。};
\node[lleaf] (t8e7) at (613,5321) {7、甲方向乙方经销商代理的保险业务支付手\\续费，手续费按月结算。保险销售代理手续费\\采用法规统一比例，交强险为________\%，商\\业车险为________\%。甲方应按时根据协商确\\定的代理手续费比例向乙方支付代理手续费;\\如果_______年度因保险监管要求手续费率有\\所变化，甲方将及时通知乙方，在不违反监管\\要求的情况下，甲方根据双方重新协商确定的\\代理手续费比例向乙方支付代理手续费。};
\node[lleaf] (t8e8) at (613,5449) {8、信息提供和沟通：甲方应定期为乙方提供\\专业化销售、营销礼仪、沟通技巧、车险产品\\、理赔流程等多项培训课程。甲、乙双方应定\\期相互通报相关业务经营情况，反馈客户对保\\险产品的需求信息和保险服务方面的意见，促\\进双方业务持续、健康的发展。};
\node[lleaf] (t8f) at (726,5697) {三、理赔服务合作乙方为甲方最高级别的重要\\客户，一切事宜均以第一次序优先处理，甲方\\为乙方提供绿色通道的服务模式，指派理赔服\\务专员全程协助办理各项手续。赔案“并发式”\\处理，同时启动多环节事故处理流程，缩短工\\作时间。};
\node[lleaf] (t8f1) at (493,5606) {(一) 出险报案管理};
\node[lleaf] (t8f1a) at (378,5533) {1、甲方提供24小时客户服务电话：  ，为客\\户提供24小时的救援和接待服务。};
\node[lleaf] (t8f1b) at (378,5593) {2、客户出险后乙方可为客户拨打上述电话代\\为报案，顾客亦可直接拨打上述电话报案。};
\node[lleaf] (t8f1c) at (378,5670) {3、如顾客直接拨打上述电话报案，甲方的电\\话服务中心在接到报案后以电话或者短信形式\\通知乙方，必要时甲乙双方一同进行现场查勘\\和施救等;对于无需对第一现场进行查勘的出\\险车辆，甲方应将客户直接指引回乙方店内进\\行定损。};
\node[lleaf] (t8f2) at (493,5789) {(二) 甲方同意为乙方的保险客户提供理赔时限\\承诺。};
\node[lleaf] (t8f2a) at (256,5761) {甲方______________(公章) 乙方______________(\\公章)};
\node[lleaf] (t8f2b) at (256,5817) {代表人__________(签章) 代表人__________(签\\章)};
\draw[link] (t8.west) edge[lto] (t8a.east) edge[lto] (t8b.east) edge[lto] (t8c.east)
  edge[lto] (t8d.east) edge[lto] (t8e.east) edge[lto] (t8f.east);
\draw[link] (t8d.west) edge[lto] (t8d1.east) edge[lto] (t8d2.east) edge[lto] (t8d3.east)
  edge[lto] (t8d4.east);
\draw[link] (t8e.west) edge[lto] (t8e1.east) edge[lto] (t8e2.east) edge[lto] (t8e3.east)
  edge[lto] (t8e4.east) edge[lto] (t8e5.east) edge[lto] (t8e6.east) edge[lto] (t8e7.east)
  edge[lto] (t8e8.east);
\draw[link] (t8f.west) edge[lto] (t8f1.east) edge[lto] (t8f2.east);
\draw[link] (t8f1.west) edge[lto] (t8f1a.east) edge[lto] (t8f1b.east) edge[lto] (t8f1c.east);
\draw[link] (t8f2.west) edge[lto] (t8f2a.east) edge[lto] (t8f2b.east);

% ---- tenth
\node[lleaf] (t10a) at (726,5871) {甲方：____________(以下简称甲方)};
\node[lleaf] (t10b) at (726,5916) {乙方：____________(以下简称乙方)};
\node[lleaf] (t10c) at (726,5992) {在甲、乙双方_____年_____月份当面沟通后\\，乙方根据沟通内容和甲方的具体需求，向甲\\方提交了《____________培训方案》。\\年_____月_____日乙方接到该方案已经通过\\甲方认可的 通知，甲、乙双方认为有必要将\\该方案定义为本合同附件一。};
\node[lleaf] (t10d) at (726,6562) {为了更好的帮助甲方提升_____人员的_____\\技能和_____ 能力，从而提高甲方的_____水\\平。为了有效地实施《_____培训方案》，双\\方就针对甲方_____人员进行_____培训的相\\关事宜达成以下条款：};
\node[lleaf] (t10d1) at (493,6076) {1.乙方根据《附件一》为甲方开发、准备有关\\课程。};
\node[lleaf] (t10d2) at (493,6135) {2.乙方指定___________为乙方培训联络人，\\负责培训相关事项的沟通。};
\node[lleaf] (t10d3) at (493,6186) {3.乙方负责培训的实施及培训后的学员评估。};
\node[lleaf] (t10d4) at (493,6231) {4.乙方负责保证课程的教学质量。};
\node[lleaf] (t10d5) at (493,6289) {5.乙方负责制作培训讲义，在每周培训当天上\\课之前发放到参训人员的手中，做到打印清晰\\工整、装订牢固、人手一册。};
\node[lleaf] (t10d6) at (493,6360) {6.甲、乙方有责任按照《附件一》相互配合实\\施培训，如确有特殊情况，须提前3天征得对\\方同意，方可调整培训时间。};
\node[lleaf] (t10d7) at (493,6424) {7.甲方负责安排培训场地，并按照乙方要求提\\供培训所需的教学用具。};
\node[lleaf] (t10d8) at (493,6482) {8.甲方有责任按照支付条款中规定的时间和金\\额向乙方支付培训费用。};
\node[lleaf] (t10d9) at (493,6553) {9.本培训自_____年_____月_____日起，为期\\___1___周，共进行___2-3___小时的培训，依\\据下面时间表进行，如遇节假日，时间自动顺\\延，或双方另行商议利用节假日进行培训。};
\node[lleaf] (t10d9a) at (253,6553) {培训实施时间表(略)};
\node[lleaf] (t10d10) at (493,6654) {10.培训场地及培训器材要求：};
\node[lleaf] (t10d10a) at (324,6625) {(1) 教学白板(或黑板)1个，白板笔(或粉笔)若\\干；};
\node[lleaf] (t10d10b) at (324,6683) {(2)电脑多媒体投影仪1台，并配有投影幕布(\\或教室前面是平整白墙)};
\node[lleaf] (t10d11) at (493,6747) {11.培训费用支付条款：本合同标的培训(辅导\\)费用总额为人民币_____圆整(￥_____)付款\\方式为转账汇款，具体支付时间如下：};
\node[lleaf] (t10d11a) at (257,6747) {(1)甲方定于每月20日为工资的发放日，如遇\\公司财务、经营管理决策的重大调整等特殊情\\况，可放宽至每月30日前发放。};
\node[lleaf] (t10d12) at (493,6818) {12. 在履行本合同过程中发生的争议，双方协\\商解决，协商不成由合同签约地人民法院裁决\\。};
\node[lleaf] (t10d13) at (493,6889) {13.如有未尽事宜，经双方友好协商，可补充\\相关协议，合同附件及补充协议与本合同具同\\等法律效力。};
\node[lleaf] (t10d14) at (493,6948) {14.此合同一式二份，甲、乙双方各持一份。};
\node[lleaf] (t10d15) at (493,7047) {15.此合同自双方签字盖章之日起生效。};
\node[lleaf] (t10d15a) at (283,6993) {甲方(公章)：________乙方(公章)：________};
\node[lleaf] (t10d15b) at (283,7045) {法定代表人(签字)：________法定代表人(签\\字)：________};
\node[lleaf] (t10d15c) at (283,7102) {________年___月___日________年___月___\\_日};
\draw[link] (t10.west) edge[lto] (t10a.east) edge[lto] (t10b.east) edge[lto] (t10c.east)
  edge[lto] (t10d.east);
\draw[link] (t10d.west) edge[lto] (t10d1.east) edge[lto] (t10d2.east) edge[lto] (t10d3.east)
  edge[lto] (t10d4.east) edge[lto] (t10d5.east) edge[lto] (t10d6.east) edge[lto] (t10d7.east)
  edge[lto] (t10d8.east) edge[lto] (t10d9.east) edge[lto] (t10d10.east) edge[lto] (t10d11.east)
  edge[lto] (t10d12.east) edge[lto] (t10d13.east) edge[lto] (t10d14.east) edge[lto] (t10d15.east);
\draw[link] (t10d9.west) edge[lto] (t10d9a.east);
\draw[link] (t10d10.west) edge[lto] (t10d10a.east) edge[lto] (t10d10b.east);
\draw[link] (t10d11.west) edge[lto] (t10d11a.east);
\draw[link] (t10d15.west) edge[lto] (t10d15a.east) edge[lto] (t10d15b.east) edge[lto] (t10d15c.east);
\end{tikzpicture}
\end{document}
